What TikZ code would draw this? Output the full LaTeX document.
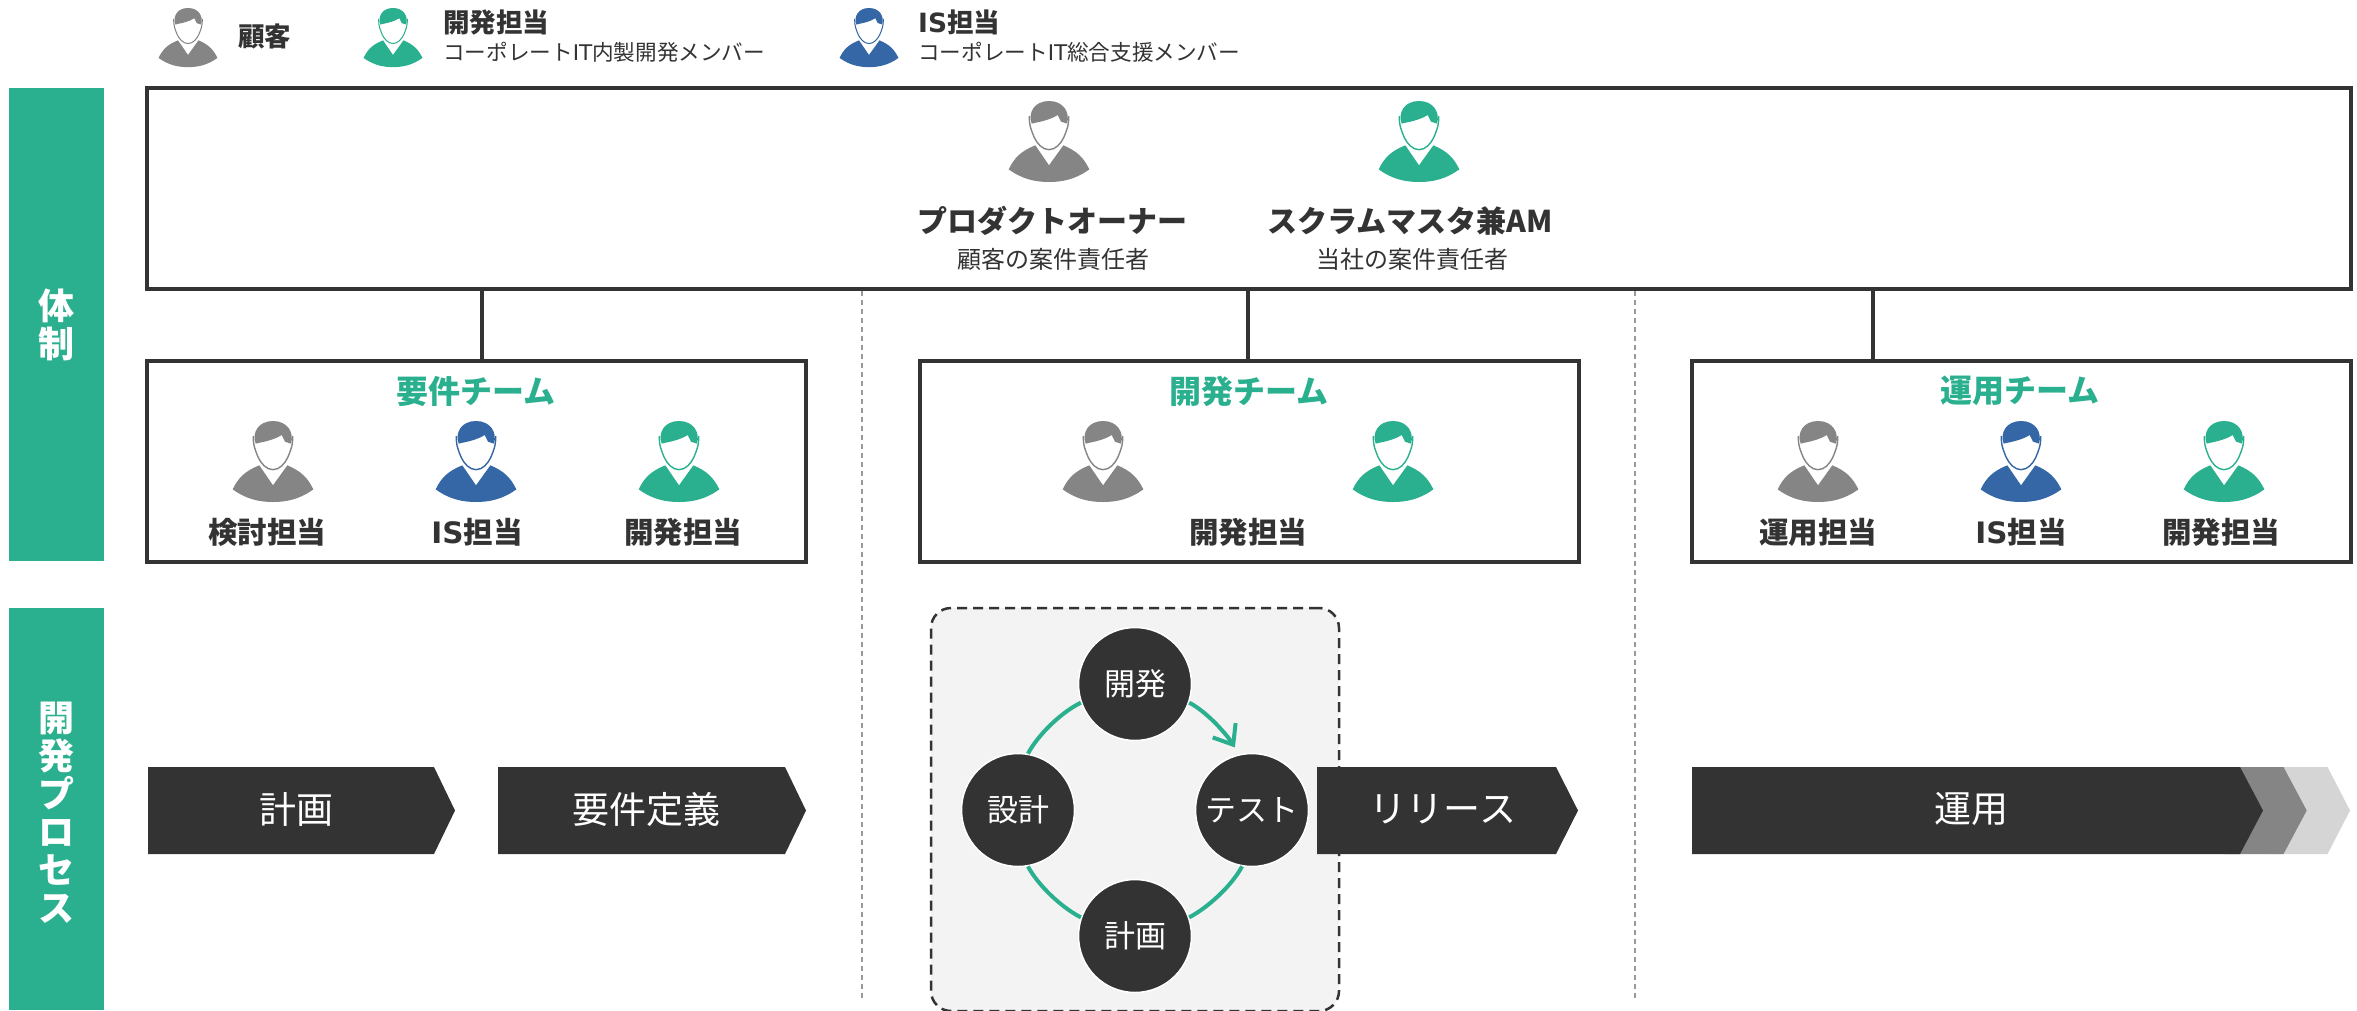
\documentclass[tikz,border=0pt]{standalone}
\usepackage{fontspec}
\setmainfont{Noto Sans CJK JP}
\newfontfamily\latf{DejaVu Sans}
\usetikzlibrary{arrows.meta}
\definecolor{ink}{HTML}{333333}
\definecolor{teal}{HTML}{2BB08F}
\definecolor{pgray}{HTML}{858585}
\definecolor{pblue}{HTML}{3566A5}
\definecolor{lgray}{HTML}{D5D5D5}
\definecolor{panel}{HTML}{F3F3F3}
\newcommand\fsz[1]{\fontsize{#1}{#1}\selectfont}
\newcommand\person[4]{%
 \begin{scope}[shift={(#1,#2)},scale=#3/3]
  \fill[#4] (-121,205) .. controls (-104,170) and (-84,150) .. (-41,133) -- (0,193) -- (43,133)
    .. controls (84,150) and (104,170) .. (121,205) .. controls (80,235) and (40,243) .. (0,243)
    .. controls (-40,243) and (-80,235) .. (-121,205) -- cycle;
  \draw[#4,line width=#3*1.4pt] (-59,45) .. controls (-60,75) and (-52,90) .. (-44,110)
    .. controls (-35,128) and (-20,146) .. (0,146) .. controls (20,146) and (35,128) .. (44,110)
    .. controls (52,90) and (60,75) .. (59,45);
  \fill[#4] (-52,68) .. controls (-64,35) and (-44,0) .. (0,0) .. controls (44,0) and (64,35) .. (54,68)
    -- (36,62) -- (26,42) .. controls (5,55) and (-15,60) .. (-40,65) -- cycle;
 \end{scope}}
\newcommand\pent[6]{% name, x0, shoulder, tip, label centre, label
 \fill[ink] (#2,767) -- (#3,767) -- (#4,810.5) -- (#3,854) -- (#2,854) -- cycle;
 \node[pentlabel] (#1) at (#5,809) {#6};}
\tikzset{
 frame/.style={draw=ink,line width=4pt,fill=white,rectangle,inner sep=0,outer sep=0},
 sidebar/.style={fill=teal,rectangle,inner sep=0,outer sep=0,minimum width=95pt},
 sidelabel/.style={text=white,inner sep=0,align=center,font=\bfseries\fontsize{36}{38}\selectfont},
 conn/.style={draw=ink,line width=4pt},
 sep/.style={draw=black!40,line width=1.5pt,dash pattern=on 5pt off 4pt},
 cyc/.style={circle,fill=ink,draw=white,line width=1.5pt,minimum size=113pt,inner sep=0,text=white,font=\fsz{31}},
 cycline/.style={draw=teal,line width=4pt},
 pentlabel/.style={text=white,font=\fsz{37},inner sep=0},
 role/.style={text=ink,font=\bfseries\fsz{29.5},inner sep=0},
 teamtitle/.style={text=teal,font=\bfseries\fsz{32},inner sep=0},
 lead/.style={text=ink,font=\bfseries\fsz{30},inner sep=0},
 leadsub/.style={text=ink,font=\fsz{24},inner sep=0},
 leghead/.style={text=ink,font=\bfseries\fsz{26.5},inner sep=0,anchor=west},
 legsub/.style={text=ink,font=\fsz{21.6},inner sep=0,anchor=west},
}
\begin{document}
\begin{tikzpicture}[x=1pt,y=-1pt]
\useasboundingbox (0,0) rectangle (2357,1010);
\fill[white] (0,0) rectangle (2357,1010);
% legend
\person{188}{8}{0.73}{pgray}
\node[leghead] (lg1) at (238,36) {顧客};
\person{393}{8}{0.73}{teal}
\node[leghead] (lg2) at (443,22) {開発担当};
\node[legsub] (lg2s) at (443,52) {コーポレート{\latf IT}内製開発メンバー};
\person{869}{8}{0.73}{pblue}
\node[leghead] (lg3) at (918,22) {{\latf IS}担当};
\node[legsub] (lg3s) at (918,52) {コーポレート{\latf IT}総合支援メンバー};
% side bars
\node[sidebar,minimum height=473pt] (bar1) at (56.5,324.5) {};
\node[sidelabel] (bar1t) at (bar1) {体\\制};
\node[sidebar,minimum height=402pt] (bar2) at (56.5,809) {};
\node[sidelabel] (bar2t) at (56.5,813) {開\\発\\プ\\ロ\\セ\\ス};
% separators
\coordinate (s1a) at (862,291); \coordinate (s1b) at (862,1000);
\coordinate (s2a) at (1635,291); \coordinate (s2b) at (1635,1000);
\draw[sep] (s1a) -- (s1b);
\draw[sep] (s2a) -- (s2b);
% frames
\node[frame,minimum width=2204pt,minimum height=201pt] (top) at (1249,188.5) {};
\node[frame,minimum width=659pt,minimum height=201.5pt] (req) at (476.5,461.25) {};
\node[frame,minimum width=659pt,minimum height=201.5pt] (dev) at (1249,461.25) {};
\node[frame,minimum width=659pt,minimum height=201.5pt] (ops) at (2021,461.25) {};
\coordinate (c1) at (482,360.5); \coordinate (c2) at (1248,360.5); \coordinate (c3) at (1873,360.5);
\draw[conn] (c1 |- top.south) -- (c1);
\draw[conn] (c2 |- top.south) -- (c2);
\draw[conn] (c3 |- top.south) -- (c3);
% top frame content
\person{1049}{101}{1}{pgray}
\person{1419}{101}{1}{teal}
\node[lead] (po) at (1052,221) {プロダクトオーナー};
\node[leadsub] (pos) at (1053,259) {顧客の案件責任者};
\node[lead] (sm) at (1410,221) {スクラムマスタ兼AM};
\node[leadsub] (sms) at (1412,259) {当社の案件責任者};
% teams
\node[teamtitle] (t1) at (476,391) {要件チーム};
\node[teamtitle] (t2) at (1249,391) {開発チーム};
\node[teamtitle] (t3) at (2020,391) {運用チーム};
\person{273}{421}{1}{pgray}
\person{476}{421}{1}{pblue}
\person{679}{421}{1}{teal}
\person{1103}{421}{1}{pgray}
\person{1393}{421}{1}{teal}
\person{1818}{421}{1}{pgray}
\person{2021}{421}{1}{pblue}
\person{2224}{421}{1}{teal}
\node[role] (r1) at (267,532) {検討担当};
\node[role] (r2) at (477,532) {{\latf IS}担当};
\node[role] (r3) at (683,532) {開発担当};
\node[role] (r4) at (1248,532) {開発担当};
\node[role] (r5) at (1818,532) {運用担当};
\node[role] (r6) at (2021,532) {{\latf IS}担当};
\node[role] (r7) at (2221,532) {開発担当};
% cycle panel
\node[rectangle,rounded corners=20pt,draw=ink,fill=panel,line width=2.5pt,dash pattern=on 10pt off 6pt,minimum width=408pt,minimum height=403pt,inner sep=0] (panel) at (1135,809.5) {};
\node[cyc] (cdev) at (1135,684) {開発};
\node[cyc] (cdes) at (1018,810) {設計};
\node[cyc] (ctest) at (1252,810) {テスト};
\node[cyc] (cplan) at (1135,936) {計画};
\draw[cycline,-{Straight Barb[length=17pt,width=27pt,line width=4pt]},shorten >=8pt] (cdev.-19) to[out=-27,in=122,looseness=0.75] (ctest.103);
\draw[cycline] (ctest.-100) to[out=-118,in=27.5,looseness=0.75] (cplan.19);
\draw[cycline] (cplan.161) to[out=153,in=-62,looseness=0.75] (cdes.-80);
\draw[cycline] (cdes.80) to[out=62,in=206,looseness=0.75] (cdev.199);
% process arrows
\pent{p1}{148}{434}{455}{296}{計画}
\pent{p2}{498}{785}{806}{646}{要件定義}
\pent{p3}{1317}{1556}{1578}{1443}{リリース}
\fill[lgray] (2270,767) -- (2327.5,767) -- (2350,810.5) -- (2327.5,854) -- (2270,854) -- cycle;
\fill[pgray] (2225,767) -- (2283.5,767) -- (2306.7,810.5) -- (2283.5,854) -- (2225,854) -- cycle;
\pent{p4}{1692}{2240}{2263}{1971}{運用}
\end{tikzpicture}
\end{document}
